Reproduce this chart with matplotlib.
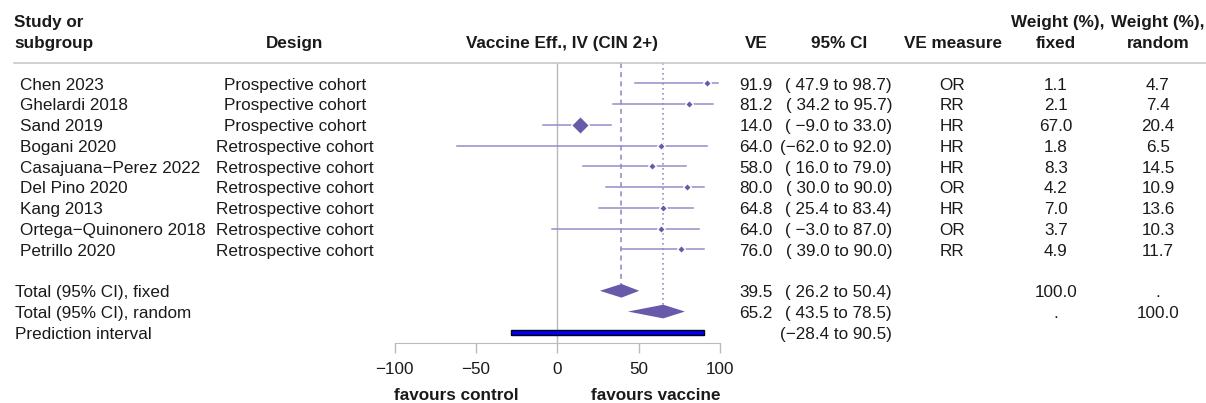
import matplotlib.pyplot as plt
from matplotlib.transforms import blended_transform_factory
from matplotlib.patches import Polygon, Rectangle

plt.rcParams['font.family'] = ['Liberation Sans', 'DejaVu Sans']
plt.rcParams['font.size'] = 12.3

# study level data
studies = ["Chen 2023", "Ghelardi 2018", "Sand 2019", "Bogani 2020",
           "Casajuana\u2212Perez 2022", "Del Pino 2020", "Kang 2013",
           "Ortega\u2212Quinonero 2018", "Petrillo 2020"]
design = ["Prospective cohort"] * 3 + ["Retrospective cohort"] * 6
ve = [91.9, 81.2, 14.0, 64.0, 58.0, 80.0, 64.8, 64.0, 76.0]
lower = [47.9, 34.2, -9.0, -62.0, 16.0, 30.0, 25.4, -3.0, 39.0]
upper = [98.7, 95.7, 33.0, 92.0, 79.0, 90.0, 83.4, 87.0, 90.0]
measure = ["OR", "RR", "HR", "HR", "HR", "OR", "HR", "OR", "RR"]
w_fixed = [1.1, 2.1, 67.0, 1.8, 8.3, 4.2, 7.0, 3.7, 4.9]
w_random = [4.7, 7.4, 20.4, 6.5, 14.5, 10.9, 13.6, 10.3, 11.7]

# pooled estimates (est, lower, upper)
fixed = (39.5, 26.2, 50.4)
random = (65.2, 43.5, 78.5)
pred_int = (-28.4, 90.5)

ticks = [-100, -50, 0, 50, 100]

purple = '#6959AA'
light = '#968DC8'
grey = '#BBBBBB'
txt = '#1a1a1a'

W, H = 1206, 403
fig = plt.figure(figsize=(W / 100, H / 100), dpi=100)
ax = fig.add_axes([0, 0, 1, 1])
ax.set_xlim(-557.3 / 1.625, (W - 557.3) / 1.625)
ax.set_ylim((H - 83.3) / 20.75, -83.3 / 20.75)

col = blended_transform_factory(fig.transFigure, ax.transData)


def ci_text(lo, hi):
    s = "({:5.1f} to {:4.1f})".format(lo, hi)
    return s.replace('-', '\u2212')


def put(x, row, s, ha='left', bold=False):
    # small downward nudge so the glyphs sit on the row centre
    ax.text(x / W, row + 0.09, s, transform=col, ha=ha, va='center',
            color=txt, fontweight='bold' if bold else 'normal')


# header
put(14, -3, "Study or", bold=True)
put(14, -2, "subgroup", bold=True)
put(295, -2, "Design", ha='center', bold=True)
put(562, -2, "Vaccine Eff., IV (CIN 2+)", ha='center', bold=True)
put(756, -2, "VE", ha='center', bold=True)
put(839, -2, "95% CI", ha='center', bold=True)
put(953, -2, "VE measure", ha='center', bold=True)
put(1058, -3, "Weight (%),", ha='center', bold=True)
put(1056, -2, "fixed", ha='center', bold=True)
put(1158, -3, "Weight (%),", ha='center', bold=True)
put(1158, -2, "random", ha='center', bold=True)
ax.plot([14 / W, 1], [-1, -1], transform=col, color='#C8C8C8', lw=1.2)

# reference lines
n = len(studies)
ax.plot([0, 0], [-1, 12.5], color=grey, lw=1, zorder=1)
ax.plot([fixed[0], fixed[0]], [-1, n + 1 - 0.33], color=light, lw=1.2,
        ls=(0, (3, 2.5)), zorder=1)
ax.plot([random[0], random[0]], [-1, n + 2 - 0.33], color=light, lw=1.2,
        ls=(0, (1, 2)), zorder=1)

# studies
for i in range(n):
    ax.plot([lower[i], upper[i]], [i, i], color=light, lw=1.1, zorder=2)
    ms = max(3.9, 8.8 * (w_fixed[i] / 67.0) ** 0.5)
    ax.plot(ve[i], i, marker='D', ms=ms, color=purple, mec='white',
            mew=1.0, zorder=3)
    put(20, i, studies[i])
    put(295, i, design[i], ha='center')
    put(773, i, "{:.1f}".format(ve[i]), ha='right')
    put(892, i, ci_text(lower[i], upper[i]), ha='right')
    put(952, i, measure[i], ha='center')
    put(1056, i, "{:.1f}".format(w_fixed[i]), ha='center')
    put(1158, i, "{:.1f}".format(w_random[i]), ha='center')

# pooled diamonds
for row, (est, lo, hi) in [(n + 1, fixed), (n + 2, random)]:
    ax.add_patch(Polygon([(lo, row), (est, row - 0.33), (hi, row),
                          (est, row + 0.33)], closed=True, color=purple,
                         lw=0, zorder=3))
    put(773, row, "{:.1f}".format(est), ha='right')
    put(892, row, ci_text(lo, hi), ha='right')
put(15, n + 1, "Total (95% CI), fixed")
put(15, n + 2, "Total (95% CI), random")
put(1056, n + 1, "100.0", ha='center')
put(1158, n + 1, ".", ha='center')
put(1056, n + 2, ".", ha='center')
put(1158, n + 2, "100.0", ha='center')

# prediction interval
ax.add_patch(Rectangle((pred_int[0], n + 3 - 0.12), pred_int[1] - pred_int[0],
                       0.24, facecolor='#0000FF', edgecolor='black', lw=1,
                       zorder=3))
put(15, n + 3, "Prediction interval")
put(892, n + 3, ci_text(*pred_int), ha='right')

# x axis
for s in ['top', 'left', 'right']:
    ax.spines[s].set_visible(False)
ax.spines['bottom'].set_position(('data', 12.5))
ax.spines['bottom'].set_bounds(ticks[0], ticks[-1])
ax.spines['bottom'].set_color(grey)
ax.set_xticks(ticks)
ax.set_yticks([])
ax.tick_params(axis='x', length=7.2, width=1, color=grey, pad=6.5,
               labelsize=12.3, labelcolor=txt)
ax.set_facecolor('white')

ax.text(-62.3, 15.05, "favours control", ha='center', va='center',
        fontweight='bold', color=txt)
ax.text(60.4, 15.05, "favours vaccine", ha='center', va='center',
        fontweight='bold', color=txt)

fig.savefig('out.png', dpi=100)
